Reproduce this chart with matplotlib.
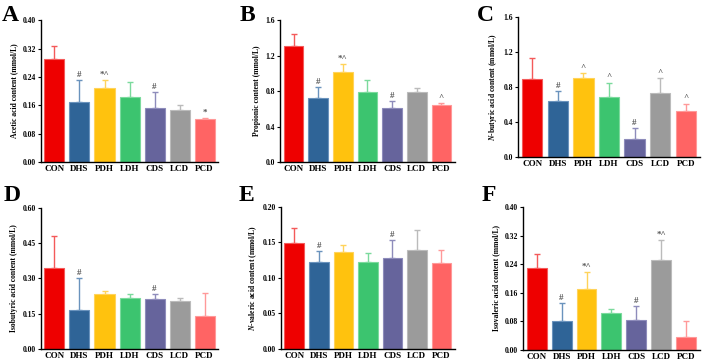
import numpy as np
from matplotlib import pyplot as plt

plt.rcParams['font.family'] = ['Liberation Serif', 'DejaVu Serif']
plt.rcParams['font.weight'] = 'bold'
plt.rcParams['mathtext.fontset'] = 'custom'
plt.rcParams['mathtext.rm'] = 'Liberation Serif:bold'
plt.rcParams['mathtext.it'] = 'Liberation Serif:italic:bold'
plt.rcParams['mathtext.bf'] = 'Liberation Serif:bold'
plt.rcParams['mathtext.bfit'] = 'Liberation Serif:italic:bold'

groups = ["CON", "DHS", "PDH", "LDH", "CDS", "LCD", "PCD"]
bar_colors = ["#EE0000", "#2F6497", "#FFC20E", "#3CC46F", "#66649C", "#9B9B9B", "#FF6464"]
err_colors = ["#F45A5A", "#6A93BD", "#FFD35A", "#7BDA9D", "#8E8CBB", "#BBBBBB", "#FF9999"]

acetic = [0.290, 0.170, 0.210, 0.182, 0.151, 0.148, 0.120]
acetic_top = [0.327, 0.230, 0.232, 0.226, 0.198, 0.160, 0.125]
acetic_sig = ["", "#", "*^", "", "#", "", "*"]

propionic = [1.31, 0.72, 1.02, 0.79, 0.61, 0.79, 0.64]
propionic_top = [1.44, 0.85, 1.10, 0.92, 0.69, 0.84, 0.66]
propionic_sig = ["", "#", "*^", "", "#", "", "^"]

butyric = [0.89, 0.64, 0.90, 0.68, 0.21, 0.73, 0.52]
butyric_top = [1.13, 0.75, 0.96, 0.85, 0.33, 0.90, 0.61]
butyric_sig = ["", "#", "^", "^", "#", "^", "^"]

isobutyric = [0.345, 0.165, 0.235, 0.217, 0.212, 0.206, 0.141]
isobutyric_top = [0.480, 0.300, 0.245, 0.235, 0.235, 0.215, 0.237]
isobutyric_sig = ["", "#", "", "", "#", "", ""]

valeric = [0.149, 0.122, 0.136, 0.122, 0.128, 0.140, 0.121]
valeric_top = [0.171, 0.138, 0.147, 0.135, 0.153, 0.167, 0.140]
valeric_sig = ["", "#", "", "", "#", "", ""]

isovaleric = [0.230, 0.082, 0.170, 0.102, 0.084, 0.252, 0.036]
isovaleric_top = [0.268, 0.130, 0.218, 0.115, 0.122, 0.308, 0.082]
isovaleric_sig = ["", "#", "*^", "", "#", "*^", ""]

panels = [
    ("A", acetic, acetic_top, acetic_sig, "Acetic acid content (mmol/L)", np.arange(0, 0.41, 0.08), "%.2f",
     [0.058, 0.550, 0.253, 0.394], (0.003, 0.985)),
    ("B", propionic, propionic_top, propionic_sig, "Propionic content (mmol/L)", np.arange(0, 1.61, 0.4), "%.1f",
     [0.399, 0.550, 0.249, 0.394], (0.342, 0.985)),
    ("C", butyric, butyric_top, butyric_sig, r"$\mathit{N}$-butyric acid content (mmol/L)", np.arange(0, 1.61, 0.4), "%.1f",
     [0.738, 0.564, 0.259, 0.389], (0.680, 0.985)),
    ("D", isobutyric, isobutyric_top, isobutyric_sig, "Isobutyric acid content (mmol/L)", np.arange(0, 0.61, 0.15), "%.2f",
     [0.058, 0.031, 0.253, 0.391], (0.005, 0.485)),
    ("E", valeric, valeric_top, valeric_sig, r"$\mathit{N}$-valeric acid content (mmol/L)", np.arange(0, 0.201, 0.05), "%.2f",
     [0.400, 0.031, 0.248, 0.394], (0.340, 0.485)),
    ("F", isovaleric, isovaleric_top, isovaleric_sig, "Isovaleric acid content (mmol/L)", np.arange(0, 0.41, 0.08), "%.2f",
     [0.745, 0.028, 0.252, 0.397], (0.686, 0.485)),
]

fig = plt.figure(figsize=(7.02, 3.6), dpi=100)
x = np.arange(len(groups))
for letter, vals, tops, sig, ylabel, yt, fmt, rect, lpos in panels:
    ax = fig.add_axes(rect)
    vals = np.array(vals)
    tops = np.array(tops)
    ax.bar(x, vals, width=0.8, color=bar_colors, edgecolor=err_colors, linewidth=0.8, zorder=2)
    for i in range(len(groups)):
        ax.errorbar(x[i], vals[i], yerr=[[0], [tops[i] - vals[i]]], fmt="none",
                    ecolor=err_colors[i], elinewidth=1.0, capsize=2, capthick=1.0, zorder=1)
        if sig[i]:
            ax.text(x[i], tops[i] + (yt[-1]) * 0.008, sig[i], ha="center", va="bottom",
                    fontsize=6.5, color="#555555")
    ax.set_xlim(-0.55, len(groups) - 0.45)
    ax.set_ylim(0, yt[-1])
    ax.set_yticks(yt)
    ax.set_yticklabels([fmt % v for v in yt], fontsize=5.5, fontweight="bold")
    ax.set_xticks(x)
    ax.set_xticklabels(groups, fontsize=6.5, fontweight="bold")
    ax.tick_params(axis="x", length=0, pad=2)
    ax.tick_params(axis="y", length=2, width=0.8, pad=1.5)
    ax.set_ylabel(ylabel, fontsize=5.5, fontweight="bold", labelpad=3)
    for s in ["top", "right"]:
        ax.spines[s].set_visible(False)
    for s in ["left", "bottom"]:
        ax.spines[s].set_linewidth(1.0)
    fig.text(lpos[0], lpos[1], letter, fontsize=17, fontweight="bold", va="top", ha="left")

fig.savefig("out.png", dpi=100)
